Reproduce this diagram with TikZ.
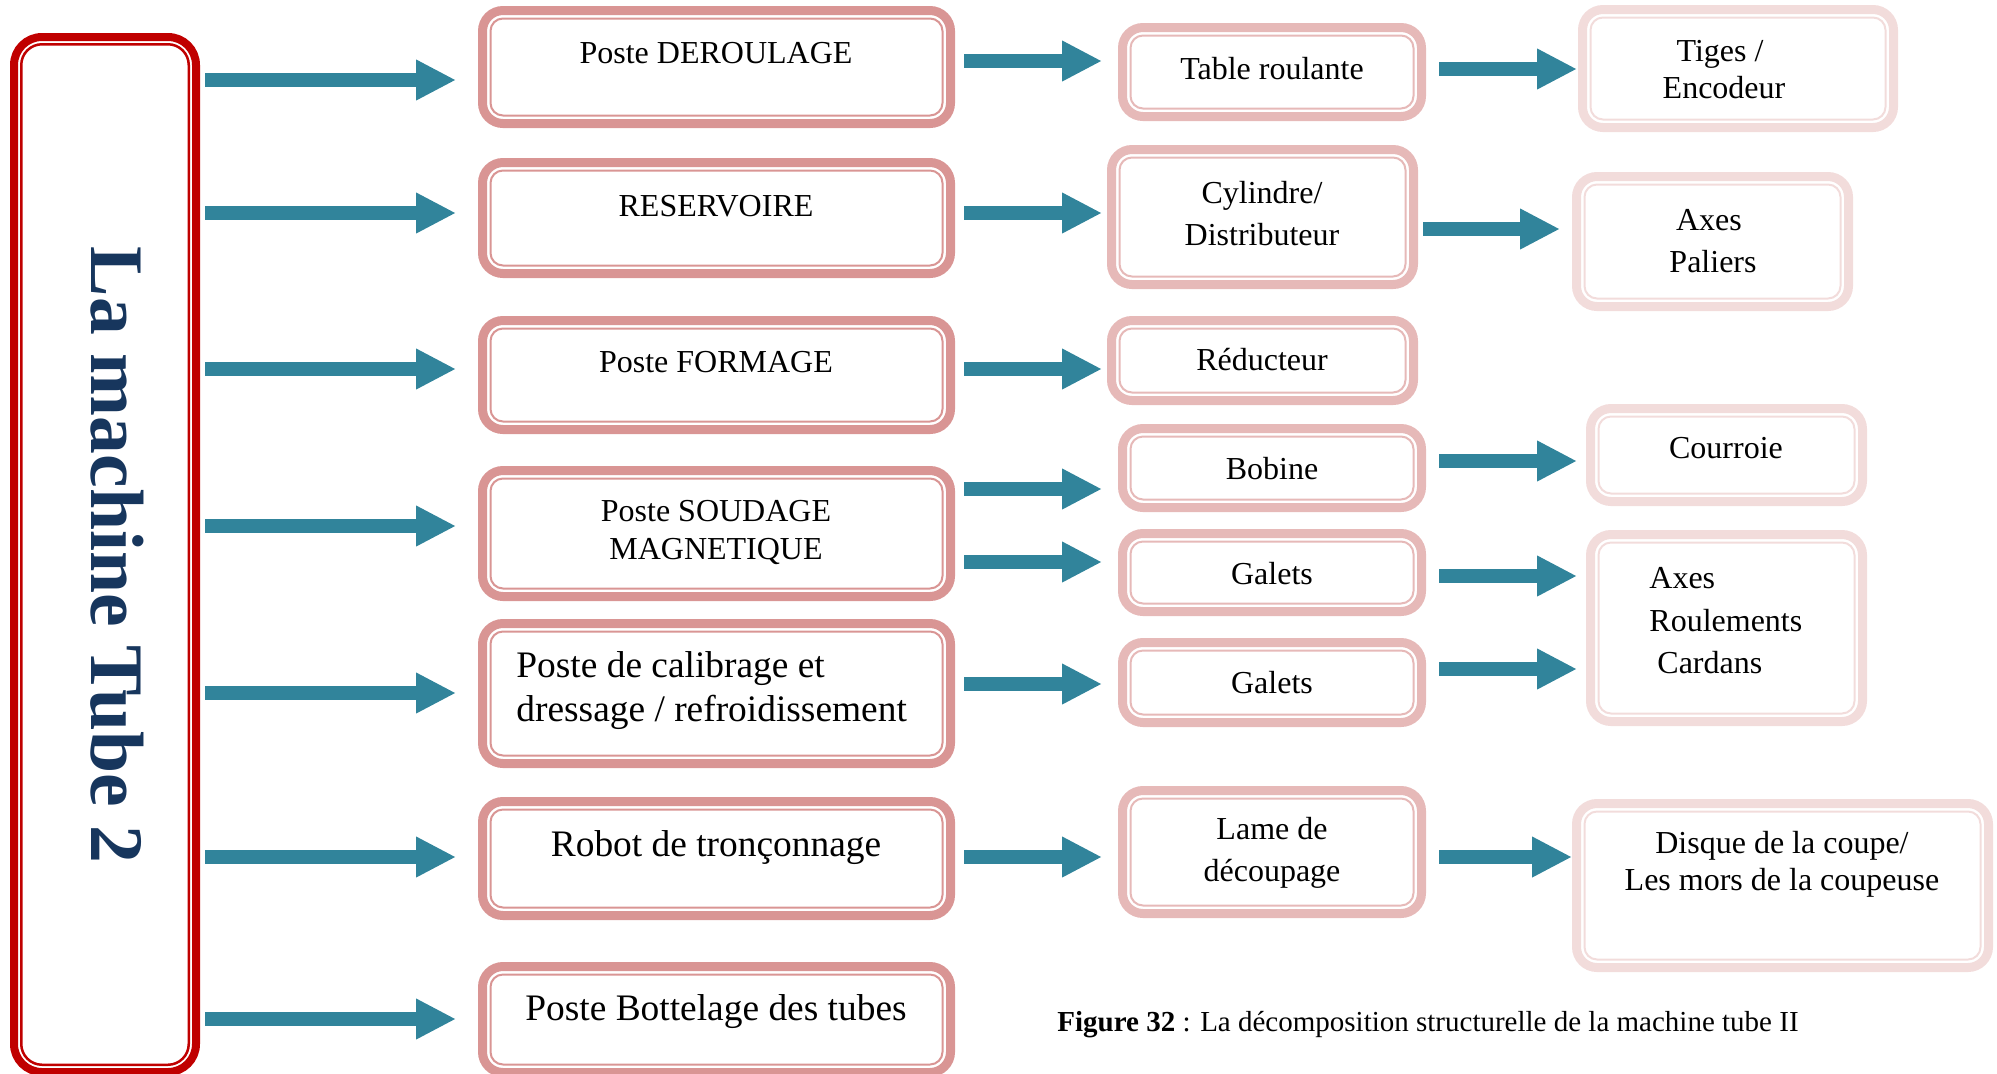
\documentclass[tikz,border=0pt]{standalone}
\usepackage{fontspec}
\setmainfont{Liberation Serif}
\usetikzlibrary{arrows.meta,fit,calc}
\definecolor{leftred}{HTML}{C00000}
\definecolor{ctwo}{HTML}{D99594}
\definecolor{cthree}{HTML}{E6B9B8}
\definecolor{cfour}{HTML}{F2DCDB}
\definecolor{arrowteal}{HTML}{31849B}
\definecolor{titlenavy}{HTML}{17365D}
\newcommand\fsn{\fontsize{16}{21}\selectfont}
\newcommand\fsb{\fontsize{18.7}{22}\selectfont}
\tikzset{
  outerbox/.style={draw=#1, line width=4.5pt, rounded corners=10.25pt, inner sep=0pt, outer sep=0pt},
  innerline/.style={draw=#1, line width=1pt, rounded corners=6.25pt},
  txt/.style={inner sep=0pt, font=\fsn, align=center},
  bigtxt/.style={inner sep=0pt, font=\fsb, align=center},
  blk/.style={draw=arrowteal, line width=7pt, -{Triangle[width=19pt,length=20pt]}},
}
% name, x1, y1, x2, y2 (outer edges, px), colour
\newcommand\rbox[6]{%
  \node[outerbox=#6, fit={(#2+4.5,#3+4.5) (#4-4.5,#5-4.5)}] (#1) {};
  \draw[innerline=#6] ([shift={(8,8)}]#1.north west) rectangle ([shift={(-8,-8)}]#1.south east);
}
% from, dx, to, dx, y
\newcommand\arr[5]{\draw[blk] ($(#1.east |- 0,#5)+(#2,0)$) -- ($(#3.west |- 0,#5)+(#4,0)$);}
\begin{document}
\begin{tikzpicture}[x=0.5pt,y=-0.5pt]
\useasboundingbox (0,0) rectangle (1997,1073);
% left main box
\node[draw=leftred, line width=4pt, rounded corners=14pt, inner sep=0pt, outer sep=0pt,
      fit={(14,37) (196,1072)}] (L) {};
\draw[draw=leftred, line width=1.25pt, rounded corners=10.4pt]
  ([shift={(7.25,7.25)}]L.north west) rectangle ([shift={(-7.25,-7.25)}]L.south east);
\node[rotate=-90, inner sep=0pt, font=\fontsize{37.8}{40}\selectfont\bfseries, text=titlenavy]
  (title) at (117,555) {La machine Tube 2};

% column 2
\rbox{P1}{478}{6}{955}{128}{ctwo}
\rbox{P2}{478}{158}{955}{278}{ctwo}
\rbox{P3}{478}{316}{955}{434}{ctwo}
\rbox{P4}{478}{466}{955}{601}{ctwo}
\rbox{P5}{478}{619}{955}{768}{ctwo}
\rbox{P6}{478}{797}{955}{920}{ctwo}
\rbox{P7}{478}{962}{955}{1077}{ctwo}
\node[txt] (P1t) at (716,53) {Poste DEROULAGE};
\node[txt] (P2t) at (716,206) {RESERVOIRE};
\node[txt] (P3t) at (716,362) {Poste FORMAGE};
\node[txt, font=\fontsize{16}{19}\selectfont] (P4t) at (716,532) {Poste SOUDAGE\\MAGNETIQUE};
\node[bigtxt, align=left, anchor=west] (P5t) at (516,691) {Poste de calibrage et\\dressage / refroidissement};
\node[bigtxt] (P6t) at (716,848) {Robot de tronçonnage};
\node[bigtxt] (P7t) at (716,1012) {Poste Bottelage des tubes};

% column 3
\rbox{Q1}{1118}{23}{1426}{121}{cthree}
\rbox{Q2}{1107}{145}{1418}{289}{cthree}
\rbox{Q3}{1107}{316}{1418}{405}{cthree}
\rbox{Q4}{1118}{424}{1426}{512}{cthree}
\rbox{Q5}{1118}{529}{1426}{616}{cthree}
\rbox{Q6}{1118}{638}{1426}{727}{cthree}
\rbox{Q7}{1118}{786}{1426}{918}{cthree}
\node[txt] (Q1t) at (1272,69) {Table roulante};
\node[txt] (Q2t) at (1262,214) {Cylindre/\\Distributeur};
\node[txt] (Q3t) at (1262,360) {Réducteur};
\node[txt] (Q4t) at (1272,469) {Bobine};
\node[txt] (Q5t) at (1272,574) {Galets};
\node[txt] (Q6t) at (1272,683) {Galets};
\node[txt] (Q7t) at (1272,853) {Lame de\\découpage};

% column 4
\rbox{R1}{1578}{5}{1898}{132}{cfour}
\rbox{R2}{1572}{172}{1853}{311}{cfour}
\rbox{R3}{1586}{404}{1867}{506}{cfour}
\rbox{R4}{1586}{530}{1867}{726}{cfour}
\rbox{R5}{1572}{799}{1993}{972}{cfour}
\node[txt, font=\fontsize{16}{18.5}\selectfont] (R1t) at (1720,70) {Tiges /\\\ Encodeur};
\node[txt] (R2t) at (1709,241) {Axes\\\ Paliers};
\node[txt] (R3t) at (1726,448) {Courroie};
\node[txt, align=left, anchor=west, font=\fontsize{16}{21.25}\selectfont] (R4t) at (1649,621) {Axes\\Roulements\\\ Cardans};
\node[txt, font=\fontsize{16}{18.5}\selectfont] (R5t) at (1782,864) {Disque de la coupe/\\Les mors de la coupeuse};

% arrows from main box
\arr{L}{9}{P1}{-26.5}{80}
\arr{L}{9}{P2}{-26.5}{213}
\arr{L}{9}{P3}{-26.5}{369}
\arr{L}{9}{P4}{-26.5}{526}
\arr{L}{9}{P5}{-26.5}{693}
\arr{L}{9}{P6}{-26.5}{857}
\arr{L}{9}{P7}{-26.5}{1019}
% column 2 -> column 3
\arr{P1}{13.5}{Q1}{-20.5}{61}
\arr{P2}{13.5}{Q2}{-9.5}{213}
\arr{P3}{13.5}{Q3}{-9.5}{369}
\arr{P4}{13.5}{Q4}{-20.5}{489}
\arr{P4}{13.5}{Q5}{-20.5}{562}
\arr{P5}{13.5}{Q6}{-20.5}{684}
\arr{P6}{13.5}{Q7}{-20.5}{857}
% column 3 -> column 4
\arr{Q1}{17.5}{R1}{-5.5}{69}
\arr{Q2}{9.5}{R2}{-16.5}{229}
\arr{Q4}{17.5}{R3}{-13.5}{461}
\arr{Q5}{17.5}{R4}{-13.5}{576}
\arr{Q6}{17.5}{R4}{-13.5}{669}
\arr{Q7}{17.5}{R5}{-4.5}{857}

% caption
\node[anchor=west, inner sep=0pt, font=\fontsize{14.5}{17}\selectfont] (cap) at (1057,1025)
  {\textbf{Figure 32} : La décomposition structurelle de la machine tube II};
\end{tikzpicture}
\end{document}
